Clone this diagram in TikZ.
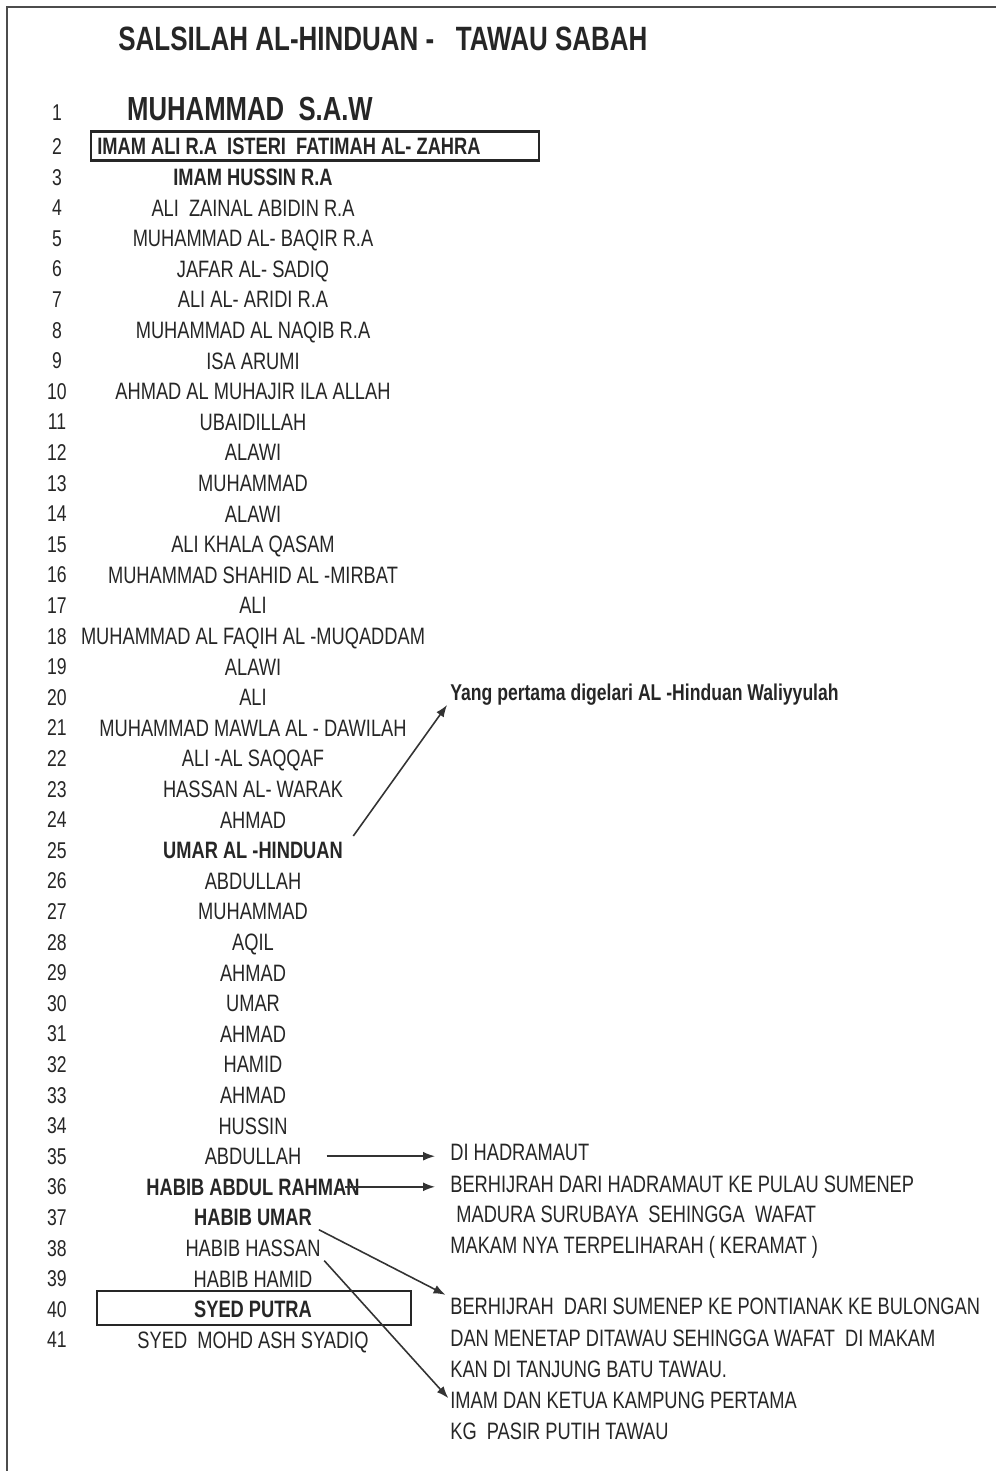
\documentclass[tikz,border=0pt]{standalone}
\usepackage{fontspec}
\setmainfont[FakeStretch=0.77]{Liberation Sans}
\usetikzlibrary{positioning}
\usetikzlibrary{calc}
\usetikzlibrary{arrows.meta}

\begin{document}
\begin{tikzpicture}[x=0.02cm, y=-0.02cm, >={Latex[length=2.4mm, width=1.8mm]},
    every node/.style={inner sep=0pt, text=black!85},
    gen/.style={font=\fontsize{13}{15}\selectfont, text height=9.3pt, text depth=0pt},
    person/.style={font=\fontsize{13.5}{16}\selectfont, text height=9.7pt, text depth=0pt},
    note/.style={person, anchor=west},
    framebox/.style={draw=black!85, line width=1.2pt},
    arr/.style={->, line width=0.9pt, black!80}]
  \useasboundingbox (0,0) rectangle (996,1471);
  % edge of the scanned page
  \draw[line width=1.6pt, black!70] (7,1471) -- (7,7) -- (996,7);

  \node[font=\bfseries\fontsize{19.2}{23}\selectfont, text height=13.7pt, text depth=0pt, anchor=west]
    (title) at (118,38) {SALSILAH AL-HINDUAN -\ \ \ TAWAU SABAH};

  % generation numbers
  \node[gen] (k1) at (57,112) {1};
  \node[gen] (k2) at (57,146) {2};
  \foreach \i in {3,...,41}
    \node[gen] (k\i) at (57,{177+(\i-3)*30.6}) {\i};

  % the line of descent
  \node[person, font=\bfseries\fontsize{19}{22}\selectfont, text height=13.6pt] (n1) at (250,109) {MUHAMMAD\ \ S.A.W};
  \node[person, font=\bfseries\fontsize{13.5}{16}\selectfont, anchor=west] (n2) at (97,146) {IMAM ALI R.A\ \ ISTERI\ \ FATIMAH AL- ZAHRA};
  \node[framebox, anchor=west, minimum width=8.96cm, minimum height=0.58cm] (box2) at (90,146) {};

  \foreach \t [count=\i from 3] in {{\bfseries IMAM HUSSIN R.A}, ALI\ \ ZAINAL ABIDIN R.A,
      MUHAMMAD AL- BAQIR R.A, JAFAR AL- SADIQ, ALI AL- ARIDI R.A, MUHAMMAD AL NAQIB R.A,
      ISA ARUMI, AHMAD AL MUHAJIR ILA ALLAH, UBAIDILLAH, ALAWI, MUHAMMAD, ALAWI,
      ALI KHALA QASAM, MUHAMMAD SHAHID AL -MIRBAT, ALI, MUHAMMAD AL FAQIH AL -MUQADDAM,
      ALAWI, ALI, MUHAMMAD MAWLA AL - DAWILAH, ALI -AL SAQQAF, HASSAN AL- WARAK, AHMAD,
      {\bfseries UMAR AL -HINDUAN}, ABDULLAH, MUHAMMAD, AQIL, AHMAD, UMAR, AHMAD, HAMID,
      AHMAD, HUSSIN, ABDULLAH, {\bfseries HABIB ABDUL RAHMAN}, {\bfseries HABIB UMAR},
      HABIB HASSAN, HABIB HAMID, {\bfseries SYED PUTRA}, SYED\ \ MOHD ASH SYADIQ}
    \node[person] (n\i) at (253,{177+(\i-3)*30.6}) {\t};

  \node[framebox, minimum width=6.28cm, minimum height=0.68cm] (box40) at (254,1308) {};

  % notes on the right
  \node[note, font=\bfseries\fontsize{13}{16}\selectfont] (yang) at (450,692) {Yang pertama digelari AL -Hinduan Waliyyulah};
  \node[note] (hadra) at (450,1152) {DI HADRAMAUT};
  \node[note] (hijrah1) at (450,1184) {BERHIJRAH DARI HADRAMAUT KE PULAU SUMENEP};
  \node[note] (madura) at (456,1214) {MADURA SURUBAYA\ \ SEHINGGA\ \ WAFAT};
  \node[note] (makam) at (450,1245) {MAKAM NYA TERPELIHARAH ( KERAMAT )};
  \node[note] (hijrah2) at (450,1306) {BERHIJRAH\ \ DARI SUMENEP KE PONTIANAK KE BULONGAN};
  \node[note] (menetap) at (450,1338) {DAN MENETAP DITAWAU SEHINGGA WAFAT\ \ DI MAKAM};
  \node[note] (tanjung) at (450,1369) {KAN DI TANJUNG BATU TAWAU.};
  \node[note] (imam) at (450,1400) {IMAM DAN KETUA KAMPUNG PERTAMA};
  \node[note] (pasir) at (450,1431) {KG\ \ PASIR PUTIH TAWAU};

  \draw[arr, shorten <=0.35cm, shorten >=0.1cm] (n25.east) -- (yang.south west);
  \draw[arr, shorten <=0.5cm, shorten >=0.3cm] (n35.east) -- (n35.east -| hadra.west);
  \draw[arr, shorten <=-0.3cm, shorten >=0.3cm] (n36.east) -- (n36.east -| hijrah1.west);
  \draw[arr, shorten <=0.15cm, shorten >=0.1cm] (n37.south east) -- (hijrah2.north west);
  \draw[arr, shorten <=0.1cm, shorten >=0.05cm] (n38.south east) -- (imam.west);
\end{tikzpicture}
\end{document}
